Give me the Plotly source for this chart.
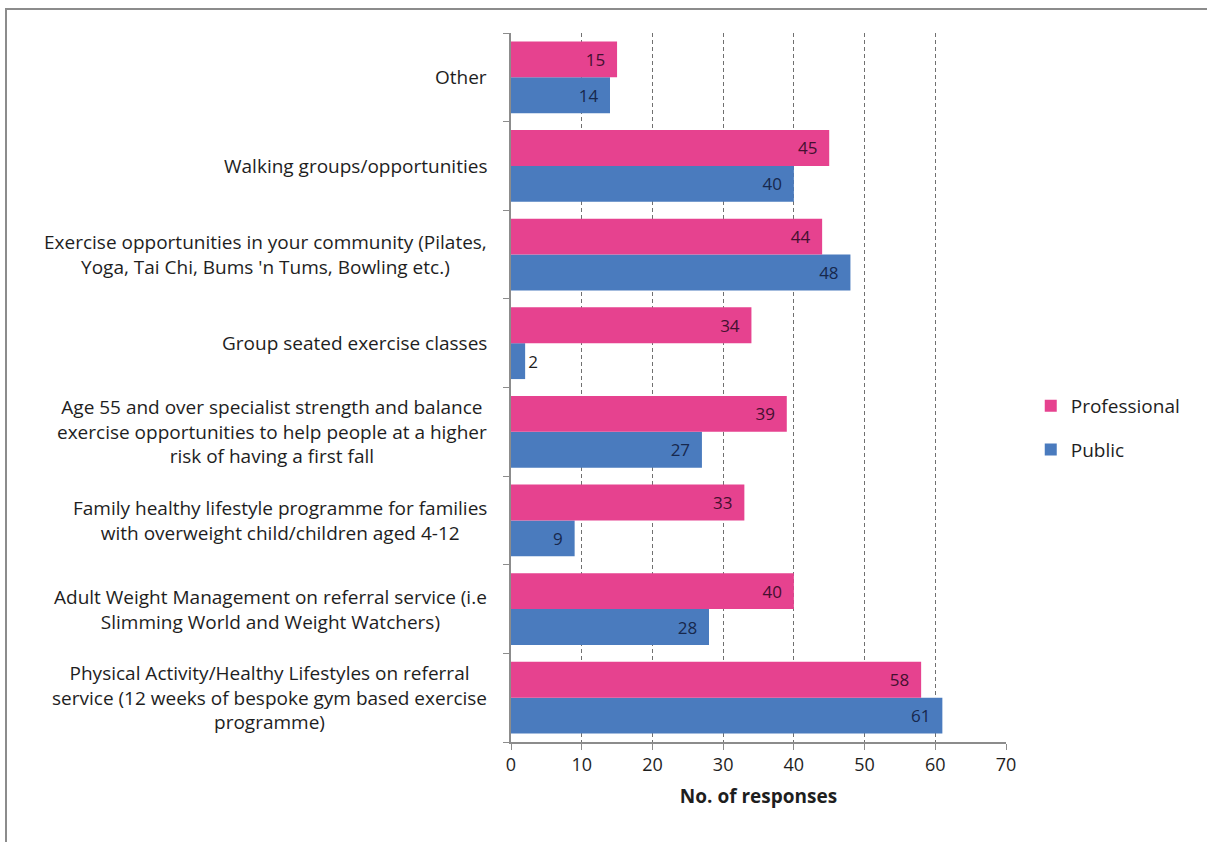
import plotly.graph_objects as go

# Categories listed bottom-to-top as they appear on the y axis
categories = [
    "Physical Activity/Healthy Lifestyles on referral<br>service (12 weeks of bespoke gym based exercise<br>programme)",
    "Adult Weight Management on referral service (i.e<br>Slimming World and Weight Watchers)",
    "Family healthy lifestyle programme for families<br>with overweight child/children aged 4-12",
    "Age 55 and over specialist strength and balance<br>exercise opportunities to help people at a higher<br>risk of having a first fall",
    "Group seated exercise classes",
    "Exercise opportunities in your community (Pilates,<br>Yoga, Tai Chi, Bums 'n Tums, Bowling etc.)",
    "Walking groups/opportunities",
    "Other",
]
professional = [58, 40, 33, 39, 34, 44, 45, 15]
public = [61, 28, 9, 27, 2, 48, 40, 14]
x_ticks = [0, 10, 20, 30, 40, 50, 60, 70]

PINK = "#E6428F"
BLUE = "#4A7BBE"
FONT = "Open Sans"
TEXT = "#1e1e1e"

fig = go.Figure()
fig.add_trace(go.Bar(
    y=categories, x=public, orientation="h", name="Public",
    marker=dict(color=BLUE, line=dict(width=0)),
    texttemplate="%{x}\u00a0\u00a0", textposition="auto", insidetextanchor="end",
    insidetextfont=dict(color="#17284d", size=17, family=FONT),
    outsidetextfont=dict(color=TEXT, size=17, family=FONT),
    cliponaxis=False, legendgroup="public", legendrank=2,
))
fig.add_trace(go.Bar(
    y=categories, x=professional, orientation="h", name="Professional",
    marker=dict(color=PINK, line=dict(width=0)),
    texttemplate="%{x}\u00a0\u00a0", textposition="auto", insidetextanchor="end",
    insidetextfont=dict(color="#441030", size=17, family=FONT),
    outsidetextfont=dict(color=TEXT, size=17, family=FONT),
    cliponaxis=False, legendgroup="professional", legendrank=1,
))

# Category labels, centred line by line and right-anchored next to the axis
for cat in categories:
    fig.add_annotation(
        x=-0.045, xref="paper", y=cat, yref="y", text=cat,
        xanchor="right", yanchor="middle", align="center", showarrow=False,
        font=dict(family=FONT, size=19, color=TEXT),
    )

# Outer frame
fig.add_shape(type="rect", xref="paper", yref="paper",
              x0=-1.0202, x1=1.45, y0=-0.2, y1=1.0339,
              line=dict(color="#8c8c8c", width=2), layer="above")

fig.update_layout(
    width=1207, height=842,
    margin=dict(l=511, r=201, t=33, b=100),
    paper_bgcolor="white", plot_bgcolor="white",
    barmode="group", bargap=0.19, bargroupgap=0,
    font=dict(family=FONT, size=18, color=TEXT),
    showlegend=True,
    legend=dict(x=1.05, y=0.443, xanchor="left", yanchor="middle",
                traceorder="grouped", tracegroupgap=16,
                font=dict(family=FONT, size=19, color=TEXT),
                itemwidth=30, bgcolor="rgba(0,0,0,0)"),
    xaxis=dict(
        range=[0, 70], tickvals=x_ticks, ticktext=[str(v) for v in x_ticks],
        showgrid=True, gridcolor="#707070", griddash="4px,3px", gridwidth=1,
        showline=True, linecolor="#8c8c8c", linewidth=1.5,
        ticks="outside", ticklen=6, tickcolor="#8c8c8c",
        tickfont=dict(family=FONT, size=18, color=TEXT),
        title=dict(text="<b>No. of responses</b>", standoff=14,
                   font=dict(family=FONT, size=19, color=TEXT)),
        zeroline=False,
    ),
    yaxis=dict(
        categoryorder="array", categoryarray=categories,
        showticklabels=False, tickson="boundaries",
        ticks="outside", ticklen=6, tickcolor="#8c8c8c",
        showline=True, linecolor="#8c8c8c", linewidth=1.5,
        showgrid=False, zeroline=False,
    ),
)

fig.write_html("out.html")
